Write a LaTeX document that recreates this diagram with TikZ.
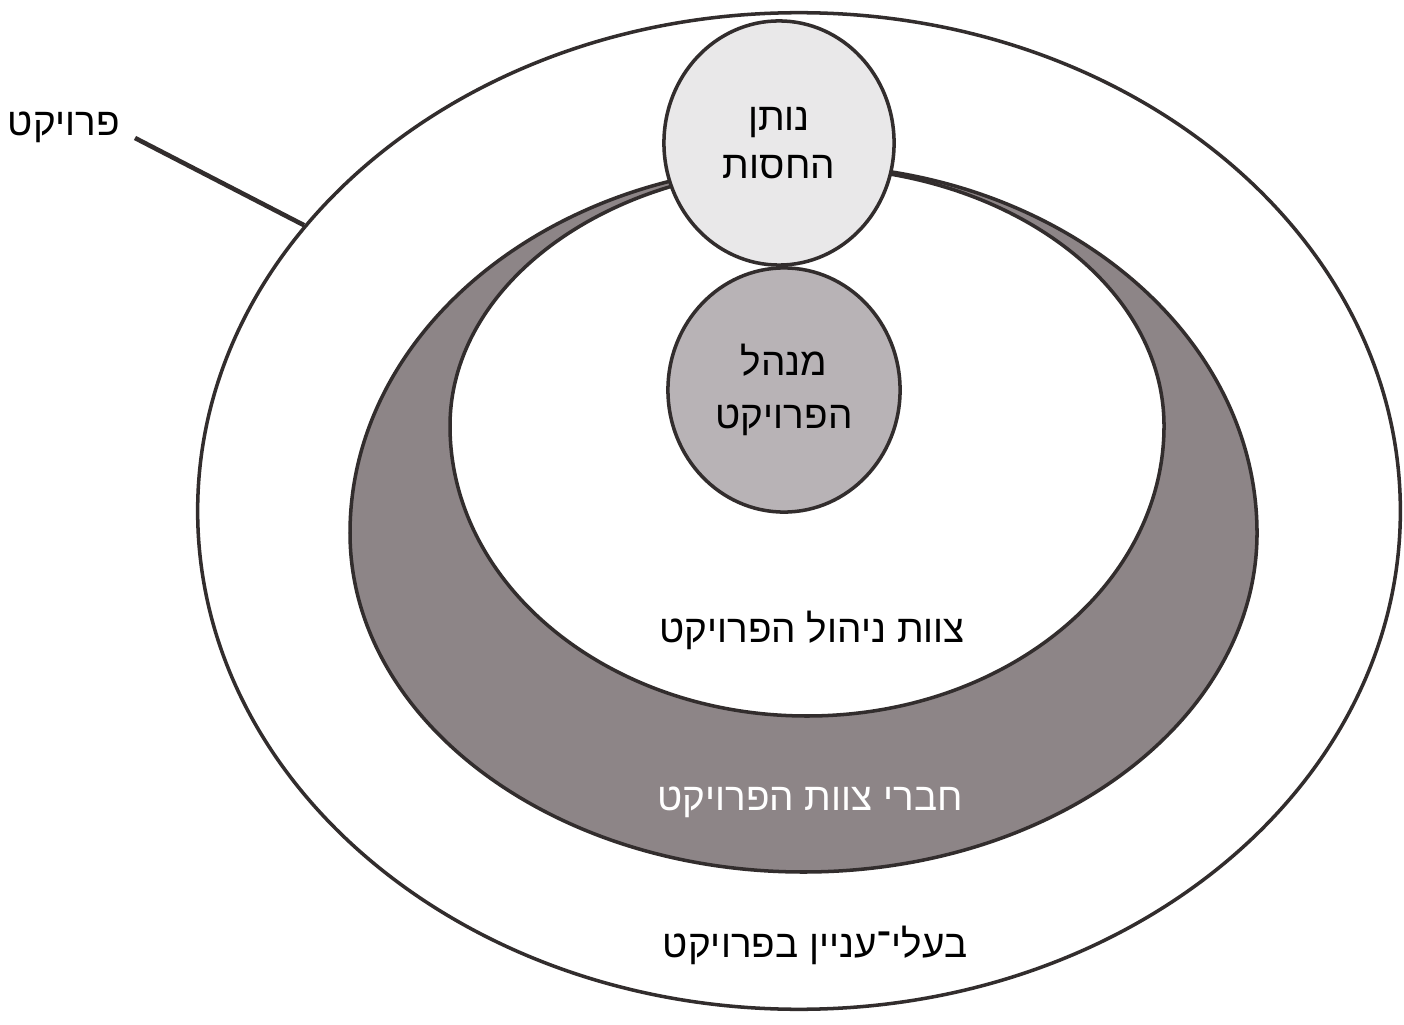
\documentclass[tikz,border=0pt]{standalone}
\usepackage{fontspec}
\usetikzlibrary{shapes.geometric}
\TeXXeTstate=1
\newfontfamily\heb[Script=Hebrew]{Liberation Sans}
\newcommand{\hb}[1]{{\heb\beginR #1\endR}}
\definecolor{ringgray}{RGB}{141,133,135}
\definecolor{mgrgray}{RGB}{184,179,182}
\definecolor{spgray}{RGB}{233,232,233}
\definecolor{edge}{RGB}{50,45,45}
\tikzset{
  outline/.style={draw=edge, line width=1pt},
  label/.style={font=\heb\fontsize{11}{13}\selectfont, text=black, inner sep=0pt},
  circlbl/.style={ellipse, outline, inner sep=0pt, align=center, font=\heb\fontsize{11}{13.6}\selectfont}
}
\begin{document}
\begin{tikzpicture}[x=0.01cm, y=0.01cm]
\useasboundingbox (0,0) rectangle (1404,-1025);
\fill[white] (0,0) rectangle (1404,-1025);
% outer ellipse
\node[ellipse, outline, fill=white, minimum width=12.02cm, minimum height=9.96cm, inner sep=0pt] (outer) at (799,-511) {};
% dark ring
\path[outline, fill=ringgray] (350,-533) arc[start angle=180, end angle=0, x radius=453.5, y radius=368]
  arc[start angle=0, end angle=-180, x radius=453.5, y radius=339] -- cycle;
% inner white
\path[outline, fill=white] (450,-426) arc[start angle=180, end angle=0, x radius=357, y radius=259]
  arc[start angle=0, end angle=-180, x radius=357, y radius=290] -- cycle;
% circles
\node[circlbl, fill=spgray, minimum width=2.30cm, minimum height=2.44cm] (sponsor) at (779,-143) {\hb{נותן}\\\hb{החסות}};
\node[circlbl, fill=mgrgray, minimum width=2.32cm, minimum height=2.44cm] (manager) at (784,-390) {\hb{מנהל}\\[1.5pt]\hb{הפרויקט}};
% labels
\node[label] (mgmt) at (812,-630) {\hb{צוות ניהול הפרויקט}};
\node[label, text=white] (members) at (810,-802) {\hb{חברי צוות הפרויקט}};
\node[label] (stake) at (815,-945) {\hb{בעלי־עניין בפרויקט}};
\node[label] (proj) at (64,-127) {\hb{פרויקט}};
\coordinate (lstart) at (135,-138);
\draw[outline, line width=1.3pt] (lstart) -- (outer.150.75);
\end{tikzpicture}
\end{document}
